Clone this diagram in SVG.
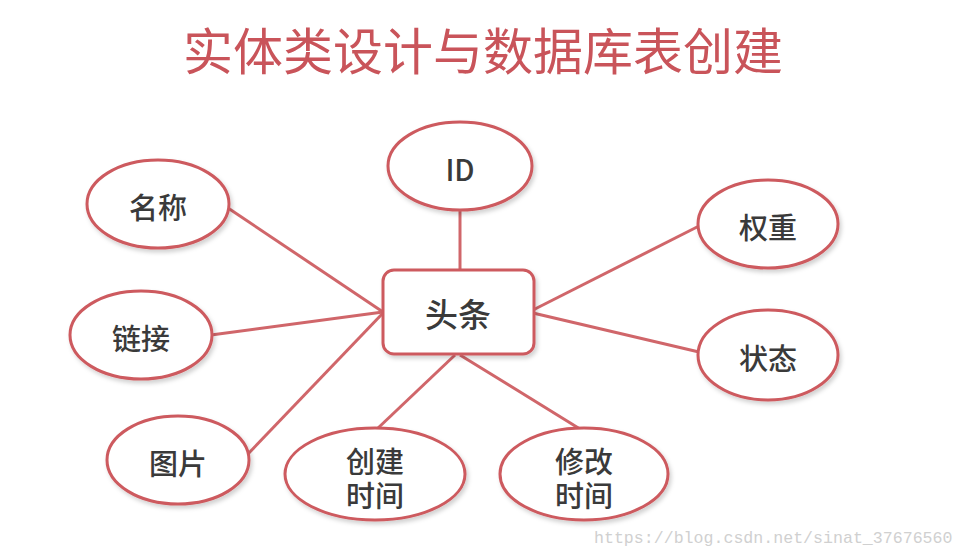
<svg xmlns="http://www.w3.org/2000/svg" width="966" height="556" viewBox="0 0 966 556">
<defs>
<filter id="sh" x="-20%" y="-20%" width="140%" height="150%">
<feDropShadow dx="2" dy="3" stdDeviation="2" flood-color="#000" flood-opacity="0.18"/>
</filter>
<style>
.node{fill:#fff;stroke:#cd5a5e;stroke-width:3;filter:url(#sh)}
.lbl{font-family:"Noto Sans CJK SC","Noto Sans",sans-serif;font-size:29px;font-weight:500;fill:#3a3a3a;text-anchor:middle;dominant-baseline:central}
.conn line{stroke:#d0666a;stroke-width:3}
</style>
</defs>
<rect width="966" height="556" fill="#fff"/>
<text x="483" y="48" font-family="'Noto Sans CJK SC',sans-serif" font-size="50" fill="#c9545a" text-anchor="middle" dominant-baseline="central">实体类设计与数据库表创建</text>
<g id="connectors" class="conn">
<line x1="460" y1="210" x2="460" y2="270"/>
<line x1="228" y1="208" x2="383" y2="312"/>
<line x1="211" y1="335" x2="383" y2="312"/>
<line x1="246" y1="456" x2="383" y2="313"/>
<line x1="699" y1="226" x2="533" y2="310"/>
<line x1="699" y1="352" x2="533" y2="313"/>
<line x1="377" y1="429" x2="455" y2="355"/>
<line x1="580" y1="429" x2="460" y2="355"/>
</g>
<g id="toutiao"><rect class="node" x="383" y="270" width="151" height="84" rx="11"/><text class="lbl" x="458" y="313" style="font-size:33px">头条</text></g>
<g id="id"><ellipse class="node" cx="460" cy="166" rx="72" ry="44"/><text class="lbl" x="460" y="168">ID</text></g>
<g id="mingcheng"><ellipse class="node" cx="158" cy="204" rx="71" ry="44"/><text class="lbl" x="158" y="206">名称</text></g>
<g id="lianjie"><ellipse class="node" cx="141" cy="335" rx="71" ry="44"/><text class="lbl" x="141" y="337">链接</text></g>
<g id="tupian"><ellipse class="node" cx="178" cy="460" rx="71" ry="44"/><text class="lbl" x="178" y="462">图片</text></g>
<g id="chuangjian"><ellipse class="node" cx="375" cy="474" rx="90" ry="46"/><text class="lbl" x="375" y="460">创建<tspan x="375" dy="34">时间</tspan></text></g>
<g id="xiugai"><ellipse class="node" cx="584" cy="474" rx="84" ry="46"/><text class="lbl" x="584" y="460">修改<tspan x="584" dy="34">时间</tspan></text></g>
<g id="quanzhong"><ellipse class="node" cx="768" cy="224" rx="70" ry="44"/><text class="lbl" x="768" y="226">权重</text></g>
<g id="zhuangtai"><ellipse class="node" cx="768" cy="355" rx="70" ry="45"/><text class="lbl" x="768" y="357">状态</text></g>
<text x="594" y="543" font-family="'Liberation Mono',monospace" font-size="16.6" fill="#d0d0d0">https://blog.csdn.net/sinat_37676560</text>
</svg>
